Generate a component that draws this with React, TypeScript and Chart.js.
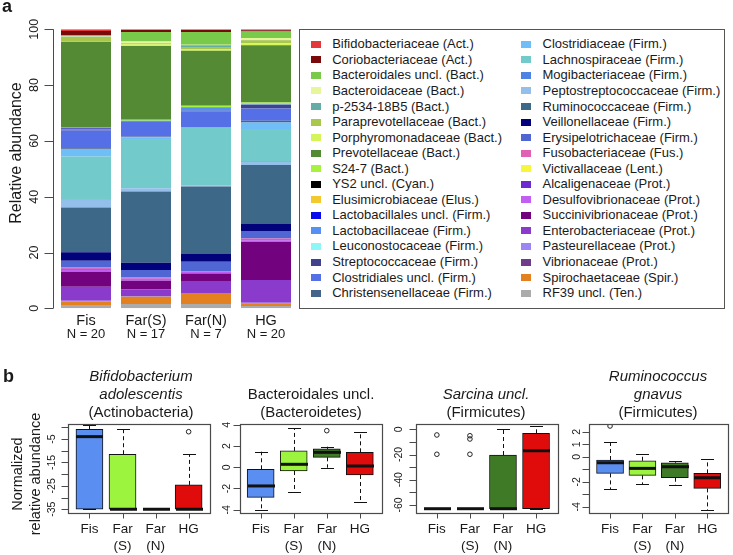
import React, { useEffect, useRef } from "react";
import { Chart, registerables } from "chart.js";

Chart.register(...registerables);

const FONT = '"Liberation Sans", Arial, Helvetica, sans-serif';
const TEXT = "#1a1a1a";
const AXIS = "#4a4a4a";
const W = 733;
const H = 555;

// ---------- Panel a data ----------
const groups = ["Fis", "Far(S)", "Far(N)", "HG"];
const groupSizes = ["N = 20", "N = 17", "N = 7", "N = 20"];
const abundanceTicks = [0, 20, 40, 60, 80, 100];

const families = [
  "Bifidobacteriaceae (Act.)",
  "Coriobacteriaceae (Act.)",
  "Bacteroidales uncl. (Bact.)",
  "Bacteroidaceae (Bact.)",
  "p-2534-18B5 (Bact.)",
  "Paraprevotellaceae (Bact.)",
  "Porphyromonadaceae (Bact.)",
  "Prevotellaceae (Bact.)",
  "S24-7 (Bact.)",
  "YS2 uncl. (Cyan.)",
  "Elusimicrobiaceae (Elus.)",
  "Lactobacillales uncl. (Firm.)",
  "Lactobacillaceae (Firm.)",
  "Leuconostocaceae (Firm.)",
  "Streptococcaceae (Firm.)",
  "Clostridiales uncl. (Firm.)",
  "Christensenellaceae (Firm.)",
  "Clostridiaceae (Firm.)",
  "Lachnospiraceae (Firm.)",
  "Mogibacteriaceae (Firm.)",
  "Peptostreptococcaceae (Firm.)",
  "Ruminococcaceae (Firm.)",
  "Veillonellaceae (Firm.)",
  "Erysipelotrichaceae (Firm.)",
  "Fusobacteriaceae (Fus.)",
  "Victivallaceae (Lent.)",
  "Alcaligenaceae (Prot.)",
  "Desulfovibrionaceae (Prot.)",
  "Succinivibrionaceae (Prot.)",
  "Enterobacteriaceae (Prot.)",
  "Pasteurellaceae (Prot.)",
  "Vibrionaceae (Prot.)",
  "Spirochaetaceae (Spir.)",
  "RF39 uncl. (Ten.)",
];

const familyColors = [
  "#E2383B", "#7A0A0A", "#79C94A", "#E6F79B", "#63ADA6", "#A8C74B",
  "#D4F55A", "#548A34", "#A6F23F", "#000000", "#F2C92E", "#0A0AEE",
  "#5590F2", "#8DF7F7", "#41418C", "#5570E6", "#46648A", "#6FBEF7",
  "#73CACA", "#4E83E3", "#94BFEA", "#3E6888", "#02027A", "#4F66D3",
  "#E060B4", "#F7F53C", "#6B2BD0", "#C35EF2", "#72027E", "#8B3BCC",
  "#9C85F5", "#6F3C8C", "#E3801F", "#ABABAB",
];

// relative abundance (%) per family, in legend order
const fisAbundance = [
  0.6, 1.4, 0.5, 0.2, 0.1, 1.6, 0.1, 30.8, 0.2, 0.1, 0, 0.1, 0.3, 0, 0.3, 6.3, 0.3,
  2.7, 15.3, 0.2, 2.8, 16.0, 3.1, 2.4, 0.4, 0, 0.4, 0.7, 5.4, 5.0, 0.2, 0.1, 1.2, 1.2,
];
const farSAbundance = [
  0.2, 0.8, 3.4, 0.6, 0.1, 0.3, 0.6, 26.4, 0.4, 0, 0, 0, 0.1, 0, 0.1, 5.4, 0.3,
  0.6, 17.7, 0.1, 1.0, 25.6, 2.6, 2.7, 0.3, 0, 0.1, 0.7, 3.1, 2.4, 0.2, 0.1, 2.6, 1.5,
];
const farNAbundance = [
  0.2, 0.8, 4.5, 0.2, 0.6, 0.8, 0.6, 19.7, 0.7, 0.1, 0, 0, 1.0, 0, 0.2, 5.6, 0.2,
  0.2, 20.4, 0.1, 0.4, 24.1, 2.9, 3.4, 0.1, 0, 0.1, 0.6, 3.0, 4.2, 0.1, 0.1, 3.6, 1.5,
];
const hgAbundance = [
  0.3, 0.5, 2.3, 0.7, 0.1, 1.1, 0.7, 20.5, 0.7, 0, 0, 0, 0.1, 0, 1.4, 4.4, 0.6,
  2.3, 11.7, 0.2, 1.0, 21.0, 2.7, 2.7, 0.3, 0, 0.3, 0.6, 13.7, 8.1, 0.1, 0.1, 1.0, 0.8,
];

// ---------- Panel b data ----------
const boxGroupLabels = [["Fis"], ["Far", "(S)"], ["Far", "(N)"], ["HG"]];
const boxFill = ["#5B8EF1", "#9CF43E", "#3F7B26", "#E00B0B"];

// [lower whisker, Q1, median, Q3, upper whisker]
const bifidoStats = [
  [-35, -35, -4.0, -0.9, 1.0],
  [-35, -35, -35, -11.5, -0.9],
  [-35, -35, -35, -35, -35],
  [-35, -35, -35, -24.6, -11.5],
];
const bifidoOutliers = [[], [], [], [-1.9]];
const bifidoTicks = [0, -5, -10, -15, -20, -25, -30, -35];
const bifidoTickLabels = ["", "-5", "", "-15", "", "-25", "", "-35"];

const bacteroidalesStats = [
  [-4.03, -2.83, -1.76, -0.19, 1.47],
  [-2.36, -0.35, 0.28, 1.54, 3.68],
  [-0.04, 0.94, 1.41, 1.73, 1.94],
  [-3.24, -0.73, 0.12, 1.41, 3.36],
];
const bacteroidalesOutliers = [[], [], [3.45], []];
const bacteroidalesTicks = [4, 2, 0, -2, -4];
const bacteroidalesTickLabels = ["4", "2", "0", "-2", "-4"];

const sarcinaStats = [
  [-63, -63, -63, -63, -63],
  [-63, -63, -63, -63, -63],
  [-63, -63, -63, -20.4, 0],
  [-63, -63, -17, -3.2, 2.6],
];
const sarcinaOutliers = [[-4.5, -19.8], [-5.1, -7.7, -19.8], [], []];
const sarcinaTicks = [0, -10, -20, -30, -40, -50, -60];
const sarcinaTickLabels = ["0", "", "-20", "", "-40", "", "-60"];

const gnavusStats = [
  [-2.61, -1.33, -0.48, -0.26, 1.2],
  [-2.18, -1.49, -0.93, -0.32, 0.22],
  [-2.26, -1.68, -0.8, -0.48, -0.34],
  [-4.26, -2.53, -1.68, -1.33, -0.18],
];
const gnavusOutliers = [[2.46], [], [], []];
const gnavusTicks = [2, 1, 0, -1, -2, -3, -4];
const gnavusTickLabels = ["2", "1", "0", "", "-2", "", "-4"];

type TitleLine = [string, boolean];

interface BoxSpec {
  stats: number[][];
  outliers: number[][];
  ticks: number[];
  tickLabels: string[];
  yMin: number;
  yMax: number;
  frameLeft: number;
  frameRight: number;
  labelOffset: number;
  titleX: number;
  title: TitleLine[];
  first?: boolean;
}

const FRAME_TOP = 424;
const FRAME_BOTTOM = 513;

const boxSpecs: BoxSpec[] = [
  {
    stats: bifidoStats, outliers: bifidoOutliers, ticks: bifidoTicks, tickLabels: bifidoTickLabels,
    yMin: -36.6, yMax: 1.4, frameLeft: 68.3, frameRight: 209.8, labelOffset: 16, titleX: 141,
    title: [["Bifidobacterium", true], ["adolescentis", true], ["(Actinobacteria)", false]], first: true,
  },
  {
    stats: bacteroidalesStats, outliers: bacteroidalesOutliers, ticks: bacteroidalesTicks,
    tickLabels: bacteroidalesTickLabels, yMin: -4.31, yMax: 4.08, frameLeft: 239.5, frameRight: 381,
    labelOffset: 12.5, titleX: 311, title: [["Bacteroidales uncl.", false], ["(Bacteroidetes)", false]],
  },
  {
    stats: sarcinaStats, outliers: sarcinaOutliers, ticks: sarcinaTicks, tickLabels: sarcinaTickLabels,
    yMin: -66.4, yMax: 4.2, frameLeft: 415.7, frameRight: 557.2, labelOffset: 17, titleX: 486,
    title: [["Sarcina uncl.", true], ["(Firmicutes)", false]],
  },
  {
    stats: gnavusStats, outliers: gnavusOutliers, ticks: gnavusTicks, tickLabels: gnavusTickLabels,
    yMin: -4.5, yMax: 2.62, frameLeft: 589.3, frameRight: 730.8, labelOffset: 12.5, titleX: 658,
    title: [["Ruminococcus", true], ["gnavus", true], ["(Firmicutes)", false]],
  },
];

function drawRotated(ctx: CanvasRenderingContext2D, text: string, x: number, y: number, font: string) {
  ctx.save();
  ctx.translate(x, y);
  ctx.rotate(-Math.PI / 2);
  ctx.font = font;
  ctx.textAlign = "center";
  ctx.textBaseline = "middle";
  ctx.fillText(text, 0, 0);
  ctx.restore();
}

const canvasStyle: React.CSSProperties = {
  position: "absolute",
  left: 0,
  top: 0,
  width: W,
  height: H,
};

function AbundanceChart() {
  const ref = useRef<HTMLCanvasElement | null>(null);
  useEffect(() => {
    const perGroup = [fisAbundance, farSAbundance, farNAbundance, hgAbundance];
    const datasets = families
      .map((name, i) => ({
        label: name,
        data: perGroup.map((arr) => arr[i]),
        backgroundColor: familyColors[i],
        borderWidth: 0,
        barPercentage: 50 / 60,
        categoryPercentage: 1,
      }))
      .reverse();

    const axesPlugin = {
      id: "abundanceAxes",
      afterDraw(chart: any) {
        const { ctx, chartArea } = chart;
        const x = chart.scales.x;
        const y = chart.scales.y;
        ctx.save();
        ctx.fillStyle = TEXT;
        ctx.font = `bold 18px ${FONT}`;
        ctx.textAlign = "left";
        ctx.textBaseline = "alphabetic";
        ctx.fillText("a", 2, 12);

        const ax = Math.round(chartArea.left - 3) + 0.5;
        ctx.strokeStyle = AXIS;
        ctx.lineWidth = 1;
        ctx.beginPath();
        ctx.moveTo(ax, y.getPixelForValue(abundanceTicks[0]));
        ctx.lineTo(ax, y.getPixelForValue(abundanceTicks[abundanceTicks.length - 1]));
        abundanceTicks.forEach((t) => {
          const py = Math.round(y.getPixelForValue(t)) + 0.5;
          ctx.moveTo(ax, py);
          ctx.lineTo(ax - 9, py);
        });
        ctx.stroke();

        abundanceTicks.forEach((t) => {
          drawRotated(ctx, String(t), 35, y.getPixelForValue(t), `12.5px ${FONT}`);
        });
        drawRotated(ctx, "Relative abundance", 17, 153, `16px ${FONT}`);

        ctx.textAlign = "center";
        ctx.textBaseline = "middle";
        groups.forEach((g, i) => {
          const px = x.getPixelForValue(i);
          ctx.font = `14.5px ${FONT}`;
          ctx.fillText(g, px, 320.5);
          ctx.font = `13px ${FONT}`;
          ctx.fillText(groupSizes[i], px, 334.5);
        });
        ctx.restore();
      },
    };

    const chart = new Chart(ref.current as HTMLCanvasElement, {
      type: "bar",
      data: { labels: groups, datasets },
      options: {
        animation: false,
        responsive: false,
        devicePixelRatio: 1,
        layout: { padding: { left: 56, top: 29.3, right: W - 296, bottom: H - 308.3 } },
        plugins: { legend: { display: false }, tooltip: { enabled: false } },
        scales: {
          x: { type: "category", stacked: true, display: false },
          y: { stacked: true, min: 0, max: 100, display: false },
        },
      },
      plugins: [axesPlugin],
    } as any);
    return () => chart.destroy();
  }, []);
  return <canvas ref={ref} width={W} height={H} style={canvasStyle} />;
}

function BoxChart({ spec }: { spec: BoxSpec }) {
  const ref = useRef<HTMLCanvasElement | null>(null);
  useEffect(() => {
    const s = spec;
    const boxData = s.stats.map((st, i) => ({ x: i + 1, y: [st[1], st[3]] }));
    const outlierData: { x: number; y: number }[] = [];
    s.outliers.forEach((arr, i) => arr.forEach((v) => outlierData.push({ x: i + 1, y: v })));

    const partsPlugin = {
      id: "boxParts",
      afterDatasetsDraw(chart: any) {
        const { ctx } = chart;
        const x = chart.scales.x;
        const y = chart.scales.y;
        ctx.save();
        s.stats.forEach((st, i) => {
          const [lo, q1, med, q3, hi] = st;
          const px = Math.round(x.getPixelForValue(i + 1)) + 0.5;
          ctx.strokeStyle = "#111";
          ctx.lineWidth = 1;
          ctx.setLineDash([4, 3]);
          ctx.beginPath();
          if (hi > q3) {
            ctx.moveTo(px, y.getPixelForValue(q3));
            ctx.lineTo(px, y.getPixelForValue(hi));
          }
          if (lo < q1) {
            ctx.moveTo(px, y.getPixelForValue(q1));
            ctx.lineTo(px, y.getPixelForValue(lo));
          }
          ctx.stroke();
          ctx.setLineDash([]);
          ctx.beginPath();
          [lo, hi].forEach((v) => {
            const py = Math.round(y.getPixelForValue(v)) + 0.5;
            ctx.moveTo(px - 6.5, py);
            ctx.lineTo(px + 6.5, py);
          });
          ctx.stroke();
          ctx.lineWidth = 3;
          ctx.beginPath();
          const pm = y.getPixelForValue(med);
          ctx.moveTo(px - 13.5, pm);
          ctx.lineTo(px + 13.5, pm);
          ctx.stroke();
        });
        ctx.restore();
      },
      afterDraw(chart: any) {
        const { ctx, chartArea } = chart;
        const x = chart.scales.x;
        const y = chart.scales.y;
        ctx.save();
        // frame
        ctx.strokeStyle = AXIS;
        ctx.lineWidth = 1.2;
        ctx.strokeRect(
          Math.round(chartArea.left) + 0.5,
          Math.round(chartArea.top) + 0.5,
          Math.round(chartArea.right - chartArea.left),
          Math.round(chartArea.bottom - chartArea.top)
        );
        // y ticks
        ctx.lineWidth = 1;
        ctx.beginPath();
        const fl = Math.round(chartArea.left) + 0.5;
        s.ticks.forEach((t) => {
          const py = Math.round(y.getPixelForValue(t)) + 0.5;
          ctx.moveTo(fl, py);
          ctx.lineTo(fl - 7, py);
        });
        // x ticks
        const fb = Math.round(chartArea.bottom) + 0.5;
        s.stats.forEach((_, i) => {
          const px = Math.round(x.getPixelForValue(i + 1)) + 0.5;
          ctx.moveTo(px, fb);
          ctx.lineTo(px, fb + 5);
        });
        ctx.stroke();

        ctx.fillStyle = TEXT;
        s.ticks.forEach((t, i) => {
          if (s.tickLabels[i]) {
            drawRotated(ctx, s.tickLabels[i], chartArea.left - s.labelOffset, y.getPixelForValue(t), `10.5px ${FONT}`);
          }
        });

        ctx.textAlign = "center";
        ctx.textBaseline = "middle";
        ctx.font = `13.5px ${FONT}`;
        boxGroupLabels.forEach((lines, i) => {
          const px = x.getPixelForValue(i + 1);
          lines.forEach((ln, j) => ctx.fillText(ln, px, 529.3 + j * 16.7));
        });

        // title
        const n = s.title.length;
        s.title.forEach(([txt, italic], j) => {
          ctx.font = `${italic ? "italic " : ""}15px ${FONT}`;
          ctx.fillText(txt, s.titleX, 413.3 - (n - 1 - j) * 18.3);
        });

        if (s.first) {
          drawRotated(ctx, "Normalized", 18, 474, `14.5px ${FONT}`);
          drawRotated(ctx, "relative abundance", 35.5, 474, `14.5px ${FONT}`);
          ctx.font = `bold 18px ${FONT}`;
          ctx.textAlign = "left";
          ctx.textBaseline = "alphabetic";
          ctx.fillText("b", 3, 381.5);
        }
        ctx.restore();
      },
    };

    const chart = new Chart(ref.current as HTMLCanvasElement, {
      type: "bar",
      data: {
        datasets: [
          {
            type: "bar",
            data: boxData,
            backgroundColor: boxFill,
            borderColor: "#111",
            borderWidth: 1,
            borderSkipped: false,
            barThickness: 27,
          },
          {
            type: "scatter",
            data: outlierData,
            pointStyle: "circle",
            pointRadius: 2.3,
            backgroundColor: "rgba(0,0,0,0)",
            borderColor: "#222",
            borderWidth: 1,
          },
        ],
      },
      options: {
        animation: false,
        responsive: false,
        devicePixelRatio: 1,
        layout: {
          padding: { left: s.frameLeft, top: FRAME_TOP, right: W - s.frameRight, bottom: H - FRAME_BOTTOM },
        },
        plugins: { legend: { display: false }, tooltip: { enabled: false } },
        scales: {
          x: {
            type: "linear",
            min: 0.36,
            max: 4.64,
            offset: false,
            grid: { offset: false },
            display: false,
          },
          y: { type: "linear", min: s.yMin, max: s.yMax, display: false },
        },
      },
      plugins: [partsPlugin],
    } as any);
    return () => chart.destroy();
  }, [spec]);
  return <canvas ref={ref} width={W} height={H} style={canvasStyle} />;
}

function Legend() {
  return (
    <div
      style={{
        position: "absolute",
        left: 299,
        top: 29,
        width: 426,
        height: 280,
        border: "1px solid #555",
        boxSizing: "border-box",
        fontFamily: FONT,
        fontSize: 13,
        color: TEXT,
        background: "#fff",
      }}
    >
      {families.map((f, i) => {
        const col = i < 17 ? 0 : 1;
        const row = i % 17;
        return (
          <div
            key={f}
            style={{
              position: "absolute",
              left: col ? 221 : 10.7,
              top: 14.3 + row * 15.55 - 8,
              height: 16,
              display: "flex",
              alignItems: "center",
              whiteSpace: "nowrap",
            }}
          >
            <span
              style={{ display: "inline-block", width: 10, height: 7, background: familyColors[i], marginRight: 11.5 }}
            />
            <span style={{ lineHeight: "16px" }}>{f}</span>
          </div>
        );
      })}
    </div>
  );
}

export default function App() {
  return (
    <div
      style={{
        position: "fixed",
        left: 0,
        top: 0,
        width: W,
        height: H,
        background: "#fff",
        overflow: "hidden",
      }}
    >
      <AbundanceChart />
      {boxSpecs.map((s, i) => (
        <BoxChart key={i} spec={s} />
      ))}
      <Legend />
    </div>
  );
}
